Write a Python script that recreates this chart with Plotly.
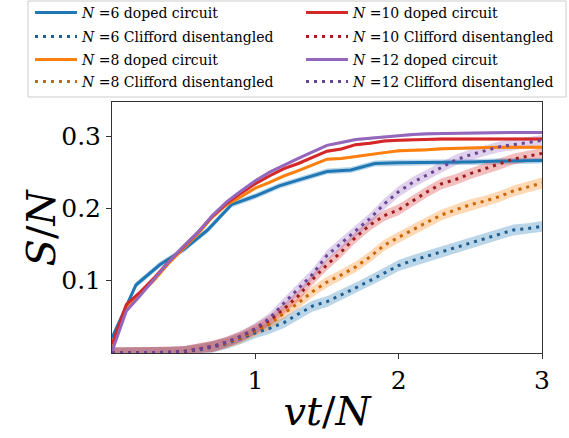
import plotly.graph_objects as go

# ---------------- data ----------------
x_grid = [round(i * 0.1, 1) for i in range(31)]
x_n6 = [i / 6 for i in range(19)]

doped_n6 = [0.021, 0.094, 0.122, 0.143, 0.170, 0.205, 0.217, 0.231, 0.241, 0.251,
            0.253, 0.262, 0.263, 0.263, 0.264, 0.264, 0.265, 0.265, 0.266]
doped_n8 = [0.005, 0.060, 0.082, 0.102, 0.125, 0.145, 0.165, 0.188, 0.205, 0.216,
            0.228, 0.236, 0.245, 0.252, 0.260, 0.268, 0.269, 0.272, 0.275, 0.277,
            0.2795, 0.280, 0.281, 0.2825, 0.283, 0.284, 0.2845, 0.2845, 0.2845, 0.2845, 0.2845]
doped_n10 = [0.012, 0.067, 0.085, 0.105, 0.127, 0.147, 0.167, 0.189, 0.207, 0.221,
             0.234, 0.245, 0.255, 0.262, 0.271, 0.279, 0.282, 0.288, 0.290, 0.293,
             0.294, 0.295, 0.2955, 0.296, 0.296, 0.296, 0.296, 0.296, 0.296, 0.296, 0.296]
doped_n12 = [0.002, 0.058, 0.080, 0.103, 0.127, 0.148, 0.167, 0.190, 0.209, 0.224,
             0.238, 0.250, 0.260, 0.269, 0.278, 0.287, 0.291, 0.295, 0.297, 0.299,
             0.301, 0.302, 0.303, 0.3035, 0.304, 0.304, 0.3045, 0.305, 0.305, 0.305, 0.305]

cliff_n6 = [0.0, 0.0, 0.0, 0.0003, 0.0008, 0.002, 0.004, 0.008, 0.013, 0.020,
            0.028, 0.034, 0.042, 0.054, 0.065, 0.071, 0.080, 0.090, 0.100, 0.110,
            0.121, 0.128, 0.134, 0.140, 0.145, 0.152, 0.158, 0.164, 0.170, 0.172, 0.175]
cliff_n8 = [0.0, 0.0, 0.0, 0.0004, 0.001, 0.002, 0.005, 0.009, 0.014, 0.021,
            0.031, 0.040, 0.055, 0.069, 0.085, 0.098, 0.108, 0.119, 0.133, 0.149,
            0.160, 0.171, 0.181, 0.191, 0.198, 0.205, 0.210, 0.216, 0.224, 0.229, 0.235]
cliff_n10 = [0.0, 0.0, 0.0, 0.0005, 0.001, 0.002, 0.005, 0.009, 0.015, 0.023,
             0.033, 0.045, 0.061, 0.079, 0.102, 0.122, 0.140, 0.160, 0.177, 0.190,
             0.198, 0.211, 0.223, 0.234, 0.240, 0.248, 0.255, 0.261, 0.268, 0.272, 0.276]
cliff_n12 = [0.0, 0.0, 0.0, 0.0005, 0.001, 0.002, 0.005, 0.009, 0.015, 0.023,
             0.034, 0.048, 0.069, 0.089, 0.109, 0.135, 0.152, 0.168, 0.186, 0.206,
             0.223, 0.236, 0.246, 0.257, 0.267, 0.274, 0.280, 0.285, 0.288, 0.291, 0.294]

# half-width of the shaded uncertainty bands
doped_err = [0.004, 0.002, 0.002, 0.002]
cliff_err = [0.0075, 0.0075, 0.0075, 0.0075]

sizes = [6, 8, 10, 12]
doped_x = [x_n6, x_grid, x_grid, x_grid]
doped_y = [doped_n6, doped_n8, doped_n10, doped_n12]
cliff_y = [cliff_n6, cliff_n8, cliff_n10, cliff_n12]

x_ticks = [1, 2, 3]
y_ticks = [0.1, 0.2, 0.3]

# ---------------- style ----------------
solid_col = ["#1f77b4", "#ff7f0e", "#d62728", "#9467bd"]
dot_col = ["#1f5f91", "#cc6600", "#a01c1c", "#6b4595"]
band_col = ["rgba(31,119,180,0.3)", "rgba(255,127,14,0.3)",
            "rgba(214,39,40,0.3)", "rgba(148,103,189,0.3)"]
FONT = "'DejaVu Serif', serif"

fig = go.Figure()


def band(xs, ys, e, color):
    up = [v + e for v in ys]
    lo = [max(v - e, 0) for v in ys]
    fig.add_trace(go.Scatter(x=list(xs) + list(xs)[::-1], y=up + lo[::-1],
                             fill="toself", fillcolor=color, mode="lines",
                             line=dict(width=0), hoverinfo="skip", showlegend=False))


for i in range(4):
    band(doped_x[i], doped_y[i], doped_err[i], band_col[i])
    band(x_grid, cliff_y[i], cliff_err[i], band_col[i])


def leg_name(k):
    return "legend" if k == 1 else f"legend{k}"


# each legend row is its own legend box, so rows can be spaced like the reference
for i in range(4):
    fig.add_trace(go.Scatter(
        x=doped_x[i], y=doped_y[i], mode="lines", legend=leg_name(2 * i + 1),
        line=dict(color=solid_col[i], width=3),
        name=f"<i>N</i> ={sizes[i]} doped circuit"))
    fig.add_trace(go.Scatter(
        x=x_grid, y=cliff_y[i], mode="lines", legend=leg_name(2 * i + 2),
        line=dict(color=dot_col[i], width=3, dash="3px,5px"),
        name=f"<i>N</i> ={sizes[i]} Clifford disentangled"))

# paper-coordinate helpers
W, H = 569, 438
L, R, T, B = 112, 27, 102, 85
PW, PH = W - L - R, H - T - B


def px2x(p):
    return (p - L) / PW


def py2y(p):
    return (H - B - p) / PH


leg_common = dict(
    orientation="v", xanchor="left", yanchor="top",
    font=dict(family=FONT, size=14, color="black"),
    bgcolor="rgba(0,0,0,0)", borderwidth=0, itemwidth=42,
)
row_tops = [-3, 21, 44, 66]
col_left = [30, 301]
legends = {}
for i in range(4):
    col = 0 if i < 2 else 1
    r0 = 2 * (i % 2)
    legends[leg_name(2 * i + 1)] = dict(
        x=px2x(col_left[col]), y=py2y(row_tops[r0]), **leg_common)
    legends[leg_name(2 * i + 2)] = dict(
        x=px2x(col_left[col]), y=py2y(row_tops[r0 + 1]), **leg_common)

fig.update_layout(
    width=W, height=H,
    margin=dict(l=L, r=R, t=T, b=B, autoexpand=False),
    paper_bgcolor="white", plot_bgcolor="white",
    font=dict(family=FONT, color="black"),
    showlegend=True,
    shapes=[dict(type="rect", xref="paper", yref="paper",
                 x0=px2x(28), x1=px2x(566), y0=py2y(97), y1=py2y(1),
                 line=dict(color="#cccccc", width=1), fillcolor="white",
                 layer="below")],
    annotations=[dict(text="<i>S</i>/<i>N</i>", xref="paper", yref="paper",
                      x=px2x(40), y=0.5, xanchor="center", yanchor="middle",
                      textangle=-90, showarrow=False,
                      font=dict(family=FONT, size=40, color="black"))],
)
fig.update_layout(legends)

fig.update_xaxes(
    range=[0, 3], tickvals=x_ticks, ticktext=[str(v) for v in x_ticks],
    showgrid=False, zeroline=False, showline=True, linecolor="#333333", linewidth=1,
    mirror=True, ticks="outside", ticklen=5, tickcolor="#333333",
    tickfont=dict(family=FONT, size=25),
    title=dict(text="<i>vt</i>/<i>N</i>", font=dict(family=FONT, size=40), standoff=2),
)
fig.update_yaxes(
    range=[0, 0.347], tickvals=y_ticks, ticktext=[f"{v:.1f}" for v in y_ticks],
    showgrid=False, zeroline=False, showline=True, linecolor="#333333", linewidth=1,
    mirror=True, ticks="outside", ticklen=5, tickcolor="#333333",
    tickfont=dict(family=FONT, size=25),
)

fig.write_html("out.html", config={"displayModeBar": False},
               post_script="document.body.style.margin='0';document.body.style.overflow='hidden';")
